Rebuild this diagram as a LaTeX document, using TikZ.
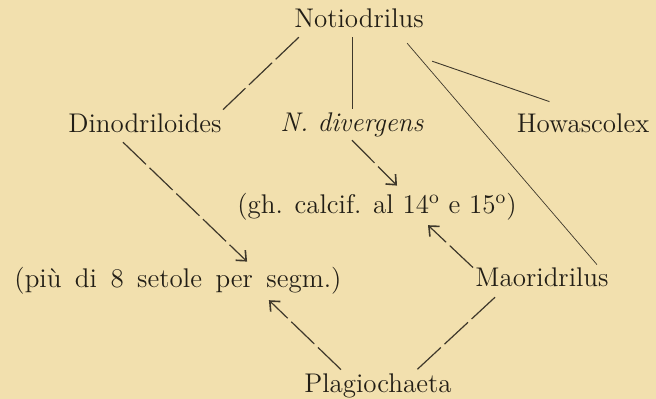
\documentclass[tikz,border=0pt]{standalone}
\usepackage{tikz}
\usetikzlibrary{arrows.meta,calc}
\definecolor{paper}{HTML}{F2E0AE}
\definecolor{ink}{HTML}{221E16}
\definecolor{inkgray}{HTML}{3E382B}
\newcommand{\widespace}{\spaceskip=0.5em plus 0.1em\relax}
\tikzset{
  taxon/.style={text=ink,font=\fontsize{13.5}{16}\selectfont,inner sep=0pt,
                text height=10pt,text depth=3.4pt,anchor=base},
  plainline/.style={draw=inkgray,line width=0.45pt},
  thinline/.style={draw=inkgray,line width=0.35pt},
  dashline/.style={draw=inkgray,line width=0.6pt,dash pattern=on 16pt off 2.5pt},
  dasharr/.style={dashline,-{Straight Barb[length=4pt,width=7pt,line width=0.8pt]}}
}

\begin{document}
\begin{tikzpicture}[x=0.5pt,y=-0.5pt]
  \fill[paper] (0,0) rectangle (656,399);
  \useasboundingbox (0,0) rectangle (656,399);
  % taxa
  \node[taxon] (noti)  at (359,28)  {Notiodrilus};
  \node[taxon] (dino)  at (145,133) {Dinodriloides};
  \node[taxon] (div)   at (352,132) {\textit{N. divergens}};
  \node[taxon] (howa)  at (583,133) {Howascolex};
  \node[taxon] (gh)    at (377,214) {(gh. calcif. al 14\textsuperscript{o} e 15\textsuperscript{o})};
  \node[taxon] (piu)   at (178,288) {\widespace(più di 8 setole per segm.)};
  \node[taxon] (maori) at (542,287) {Maoridrilus};
  \node[taxon] (plag)  at (378,392) {Plagiochaeta};
  % links from Notiodrilus
  \draw[dashline] ($(noti.south west)+(5,2)$) -- ($(dino.north east)+(1,-3)$);
  \draw[plainline] ($(noti.south -| div.north)+(0,2)$) -- ($(div.north)+(0,-3)$);
  \draw[thinline] ($(noti.south east)+(-17,8)$) -- ($(maori.north east)+(-12,-2)$);
  \draw[plainline] ($(noti.south east)+(8,26)$) -- ($(howa.north west)+(33,-11)$);
  % arrows to the characters
  \draw[dasharr] ($(dino.south west)+(55,2)$) -- ($(piu.north west)+(233,-6)$);
  \draw[dasharr] ($(div.south)+(0,1)$) -- ($(gh.north)+(20,-8)$);
  \draw[dasharr] ($(maori.north west)+(-2,1)$) -- ($(gh.south)+(51,4)$);
  \draw[dasharr] ($(plag.north west)+(37,-2)$) -- ($(piu.south east)+(-73,5)$);
  \draw[dashline] ($(maori.south west)+(20,3)$) -- ($(plag.north east)+(-35,-2)$);
\end{tikzpicture}
\end{document}
